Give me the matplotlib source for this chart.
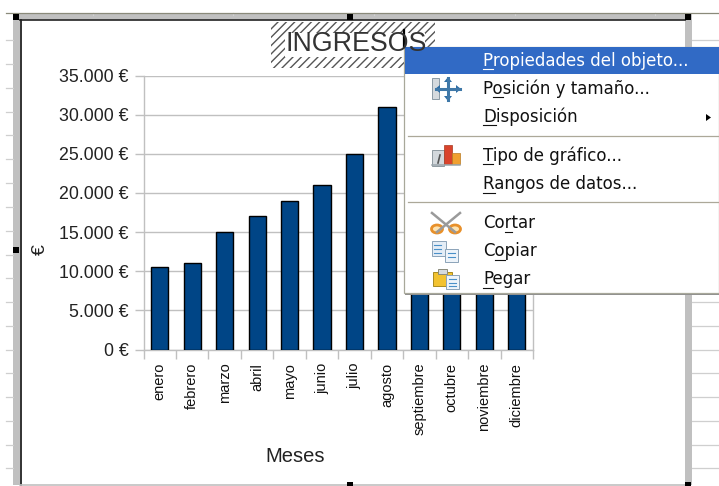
# -*- coding: UTF-8 -*-
import matplotlib
matplotlib.use('Agg')
import matplotlib.pyplot as plt
from matplotlib.patches import Rectangle, Ellipse, Polygon

plt.rcParams['font.family'] = ['Liberation Sans', 'DejaVu Sans']
plt.rcParams['hatch.linewidth'] = 1.0

meses = ['enero', 'febrero', 'marzo', 'abril', 'mayo', 'junio', 'julio', 'agosto',
         'septiembre', 'octubre', 'noviembre', 'diciembre']
# the last four bars are hidden by the menu, only their lower part can be seen
ingresos = [10500, 11000, 15000, 17000, 19000, 21000, 25000, 31000, 27000, 24000, 22000, 20000]
y_ticks = [0, 5000, 10000, 15000, 20000, 25000, 30000, 35000]
y_labels = ['0 €', '5.000 €', '10.000 €', '15.000 €', '20.000 €', '25.000 €', '30.000 €', '35.000 €']
titulo = 'INGRESOS'
eje_x = 'Meses'
eje_y = '€'
menu_items = [('Propiedades del objeto...', 0, 60.5), ('Posición y tamaño...', 1, 89),
              ('Disposición', 0, 117), ('Tipo de gráfico...', 0, 156),
              ('Rangos de datos...', 0, 184), ('Cortar', 2, 223),
              ('Copiar', 1, 251), ('Pegar', 0, 279)]

W, H = 719, 486
GREY = '#c0c0c0'
MENU_FONT = 12.0
fig = plt.figure(figsize=(W / 100, H / 100), dpi=100, facecolor='white')


def pixel_axes(z):
    a = fig.add_axes([0, 0, 1, 1], zorder=z)
    a.set_xlim(0, W)
    a.set_ylim(H, 0)
    a.axis('off')
    a.patch.set_alpha(0)
    return a


##### spreadsheet behind the chart
bg = pixel_axes(0)
for y in [40, 64, 88, 112, 135, 159, 183, 207, 231, 255, 278, 302, 326, 350, 373, 397, 421, 445, 468]:
    bg.plot([6, 13], [y, y], color='#cfcfcf', lw=0.9)
    bg.plot([692, 719], [y, y], color='#cfcfcf', lw=0.9)
for x in [93, 233, 374, 515, 655]:
    bg.plot([x, x], [13, 15], color='#cfcfcf', lw=0.9)
bg.plot([6, 719], [12.8, 12.8], color='#8a8a7a', lw=0.9)
bg.add_patch(Rectangle((13, 14), 679, 6, fc=GREY, ec='none'))
bg.add_patch(Rectangle((13, 14), 7, 471, fc=GREY, ec='none'))
bg.add_patch(Rectangle((685, 14), 7, 471, fc=GREY, ec='none'))
bg.add_patch(Rectangle((20, 20), 665, 464, fc='white', ec='none'))
bg.plot([20, 685], [20.5, 20.5], color='#333333', lw=1.3)
bg.plot([20.5, 20.5], [20, 485], color='#222222', lw=1.3)
bg.plot([20, 685], [485, 485], color=GREY, lw=1.2)

# hatched selection of the title
bg.add_patch(Rectangle((271, 22), 164, 46, fc='white', ec='#555555', hatch='////', lw=0))
bg.add_patch(Rectangle((285, 33), 140, 24, fc='white', ec='none'))

##### chart
ax = fig.add_axes([143.5 / W, 1 - 349.5 / H, 389.5 / W, 274 / H], zorder=1)
ax.patch.set_alpha(0)
pos = [i + 0.5 for i in range(len(meses))]
ax.bar(pos, ingresos, width=0.53, color='#004586', edgecolor='black', linewidth=1.0, zorder=3)
ax.set_xlim(0, 12)
ax.set_ylim(0, 35000)
ax.set_yticks(y_ticks)
ax.set_yticklabels(y_labels, fontsize=12.8, color='#222222')
ax.set_xticks(range(13))
ax.set_xticklabels([])
ax.set_xticks(pos, minor=True)
ax.set_xticklabels(meses, minor=True, rotation=90, fontsize=10.5, color='#111111', va='top', ha='center')
ax.tick_params(axis='x', which='minor', length=0, pad=9.5)
ax.tick_params(axis='both', which='major', color=GREY, width=1.0, length=6.5, pad=4.3)
ax.grid(axis='y', color=GREY, lw=1.0, zorder=0)
for s in ['left', 'right', 'bottom']:
    ax.spines[s].set_color(GREY)
    ax.spines[s].set_linewidth(1.0)
ax.spines['top'].set_visible(False)

##### everything on top of the chart
top = pixel_axes(2)
top.text(356, 44, titulo, fontsize=19.3, color='#333333', ha='center', va='center')
top.text(295, 456, eje_x, fontsize=14.5, color='#222222', ha='center', va='center')
top.text(40, 250, eje_y, fontsize=14, color='#222222', ha='center', va='center', rotation=90)

# selection handles
for x, y in [(16, 17), (350, 17), (688, 17), (16, 250), (350, 485), (688, 485)]:
    top.add_patch(Rectangle((x - 3, y - 3), 6, 6, fc='black', ec='none'))

# mouse cursor
top.plot([404, 404], [30, 46], color='black', lw=1.6)

# context menu
top.add_patch(Rectangle((405, 49), W - 405, 246, fc='#8f8f8f', ec='none'))
top.add_patch(Rectangle((404, 47), W - 404, 246, fc='white', ec='#a8a89a', lw=0.9))
top.add_patch(Rectangle((405, 47.5), W - 405, 27, fc='#316ac5', ec='none'))
for y in [136, 202]:
    top.plot([408, W], [y, y], color='#aca899', lw=0.9)
top.add_patch(Polygon([[706, 114], [706, 121], [711, 117.5]], fc='black', ec='none'))

fig.canvas.draw()
rend = fig.canvas.get_renderer()
inv = top.transData.inverted()


def text_end(s, y):
    # right end of a piece of menu text, in pixels of the picture
    if not s:
        return 483
    m = top.text(483, y, s, fontsize=MENU_FONT, family='DejaVu Sans', alpha=0)
    return inv.transform((m.get_window_extent(rend).x1, 0))[0]


for label, u, y in menu_items:
    col = 'white' if y < 70 else '#111111'
    top.text(483, y, label, fontsize=MENU_FONT, color=col, ha='left', va='center', family='DejaVu Sans')
    # underline of the mnemonic letter
    top.plot([text_end(label[:u], y), text_end(label[:u + 1], y)], [y + 8.5, y + 8.5], color=col, lw=0.8)

# icons of the menu
top.add_patch(Rectangle((432, 78), 7, 21, fc='#d5dade', ec='#8b9aa5', lw=0.7))
top.plot([436, 460], [89, 89], color='#3f78a8', lw=2.2)
top.plot([448, 448], [78, 100], color='#3f78a8', lw=2.2)
for p in ([[448, 77], [444, 82], [452, 82]], [[448, 101], [444, 96], [452, 96]],
          [[461, 89], [456, 85], [456, 93]], [[435, 89], [440, 85], [440, 93]]):
    top.add_patch(Polygon(p, fc='#2f6ea5', ec='none'))

top.add_patch(Rectangle((432, 150), 12, 16, fc='#d3d8dc', ec='#8f9aa0', lw=0.7))
top.add_patch(Rectangle((444, 145), 8, 19, fc='#d9432c', ec='#a83a20', lw=0.5))
top.add_patch(Rectangle((452, 153), 8, 11, fc='#f0a030', ec='#b97a20', lw=0.5))
top.plot([432, 460], [165.5, 165.5], color='#9aa5ab', lw=1.1)
top.plot([440, 438], [155, 163], color='#555555', lw=1.2)

top.plot([432, 455], [213, 232], color='#9a9a9a', lw=1.8)
top.plot([460, 437], [213, 232], color='#9a9a9a', lw=1.8)
for x in [437, 455]:
    top.add_patch(Ellipse((x, 229), 11, 8, fc='#fde3b0', ec='#e8902a', lw=2))

top.add_patch(Rectangle((432, 241), 14, 15, fc='#e4edf6', ec='#8ba3b8', lw=0.7))
top.add_patch(Rectangle((445, 249), 13, 13, fc='#eef4fa', ec='#8ba3b8', lw=0.7))
for x, y0 in [(434, 245), (434, 249), (434, 253), (448, 253), (448, 257)]:
    top.plot([x, x + 7], [y0, y0], color='#4a90c8', lw=0.8)

top.add_patch(Rectangle((433, 272), 19, 14, fc='#f2c230', ec='#a88a20', lw=0.7))
top.add_patch(Rectangle((438, 269), 9, 5, fc='#d5dade', ec='#8a8a7a', lw=0.7))
top.add_patch(Rectangle((446, 275), 13, 14, fc='#eef4fa', ec='#8ba3b8', lw=0.7))
for y0 in [279, 283, 286]:
    top.plot([449, 456], [y0, y0], color='#4a90c8', lw=0.8)

fig.savefig('out.png', dpi=100, facecolor='white')
